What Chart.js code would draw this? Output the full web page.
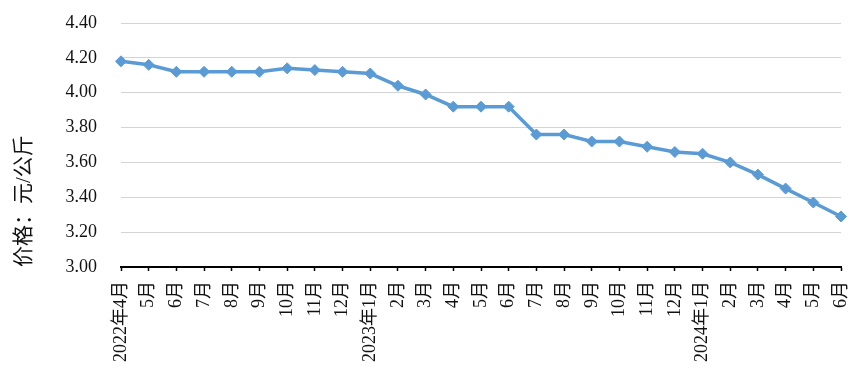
<!DOCTYPE html>
<html>
<head>
<meta charset="utf-8">
<script src="https://cdn.jsdelivr.net/npm/chart.js@4/dist/chart.umd.min.js"></script>
<style>
  html, body { margin: 0; padding: 0; background: #ffffff; }
  #wrap { width: 865px; height: 379px; position: relative; }
</style>
</head>
<body>
<div id="wrap"><canvas id="c" width="865" height="379"></canvas></div>
<script>
const categories = [
  "2022年4月", "5月", "6月", "7月", "8月", "9月", "10月", "11月", "12月",
  "2023年1月", "2月", "3月", "4月", "5月", "6月", "7月", "8月", "9月", "10月", "11月", "12月",
  "2024年1月", "2月", "3月", "4月", "5月", "6月"
];
const prices = [
  4.18, 4.16, 4.12, 4.12, 4.12, 4.12, 4.14, 4.13, 4.12,
  4.11, 4.04, 3.99, 3.92, 3.92, 3.92, 3.76, 3.76, 3.72, 3.72, 3.69, 3.66,
  3.65, 3.60, 3.53, 3.45, 3.37, 3.29
];
const yMin = 3.0;
const yMax = 4.4;
const yStep = 0.2;
const yTitle = "价格：元/公斤";

const serif = "'Liberation Serif', 'Noto Sans CJK SC', serif";

new Chart(document.getElementById('c'), {
  type: 'line',
  data: {
    labels: categories,
    datasets: [{
      data: prices,
      borderColor: '#5B9BD5',
      backgroundColor: '#5B9BD5',
      borderWidth: 3.5,
      pointStyle: 'rectRot',
      pointRadius: 5.5,
      pointHoverRadius: 5.5,
      pointBorderWidth: 1,
      tension: 0,
      fill: false
    }]
  },
  options: {
    responsive: false,
    animation: false,
    devicePixelRatio: 1,
    layout: { autoPadding: false, padding: { top: 23, right: 24, left: 0, bottom: 0 } },
    plugins: { legend: { display: false }, tooltip: { enabled: false } },
    scales: {
      x: {
        offset: false,
        grid: {
          drawOnChartArea: false,
          drawTicks: true,
          tickLength: 4,
          tickColor: '#000000',
          tickWidth: 1.5
        },
        border: { display: true, color: '#000000', width: 2 },
        ticks: {
          autoSkip: false,
          maxRotation: 90,
          minRotation: 90,
          padding: 10,
          color: '#111111',
          font: { family: serif, size: 18 }
        },
        afterFit: (s) => { s.height = 379 - 267; s.paddingLeft = 0; s.paddingRight = 0; }
      },
      y: {
        min: yMin,
        max: yMax,
        grid: {
          color: '#d4d4d4',
          lineWidth: 1,
          drawTicks: false
        },
        border: { display: false },
        ticks: {
          stepSize: yStep,
          padding: 24,
          color: '#111111',
          font: { family: serif, size: 18 },
          callback: (v) => Number(v).toFixed(2)
        },
        title: {
          display: true,
          text: yTitle,
          align: 'start',
          color: '#111111',
          font: { family: serif, size: 21 },
          padding: { top: 12, bottom: 0 }
        },
        afterFit: (s) => { s.width = 121; s.paddingTop = 0; s.paddingBottom = 0; }
      }
    }
  }
});
</script>
</body>
</html>
